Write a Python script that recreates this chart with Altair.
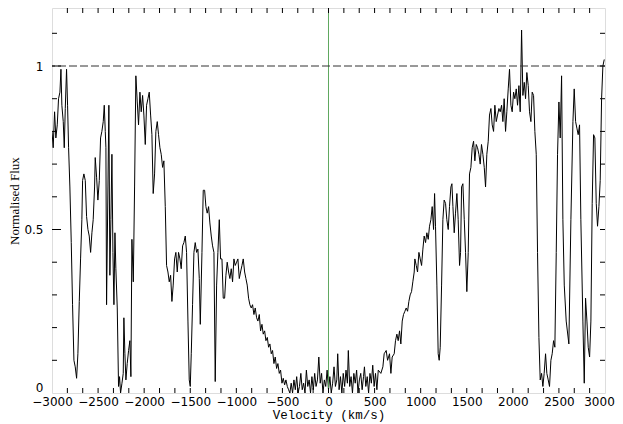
import altair as alt
import pandas as pd

# --- spectrum (velocity km/s, normalised flux) ---
vel_blue = [-3000, -2987, -2972, -2958, -2943, -2929, -2914, -2903, -2893, -2878, -2867, -2856, -2842,
            -2831, -2820, -2806, -2791, -2777, -2762, -2748, -2733, -2719, -2704, -2690, -2676, -2668,
            -2654, -2639, -2625, -2610, -2596, -2581, -2567, -2553, -2538, -2531, -2516, -2502, -2487,
            -2473, -2459, -2444, -2433, -2422, -2415, -2408, -2393, -2383, -2372, -2361, -2350, -2339,
            -2328, -2317, -2307, -2292, -2278, -2267, -2256, -2241, -2227, -2220, -2209, -2198, -2184,
            -2169, -2155, -2144, -2133, -2118, -2104, -2090, -2075, -2061, -2046, -2032, -2017, -2003,
            -1988, -1974, -1959, -1945, -1930, -1916, -1902, -1887, -1873, -1858, -1844, -1829, -1815,
            -1800, -1786, -1771, -1757, -1742, -1728, -1713, -1699, -1685, -1670, -1656, -1641, -1627,
            -1612, -1598, -1583, -1569, -1554, -1540, -1525, -1511, -1500, -1489, -1475, -1460, -1446,
            -1431, -1417, -1402, -1391, -1373, -1359, -1344, -1330, -1316, -1301, -1287, -1272, -1258,
            -1243, -1229, -1214, -1200, -1185, -1171, -1156, -1142, -1127, -1113, -1099, -1084, -1070,
            -1055, -1041, -1026, -1012, -997, -983, -968, -954, -939, -925, -910, -896, -882, -867,
            -853, -838, -824, -809, -795, -780, -766, -751, -737, -722, -708, -693, -679, -664, -650,
            -636, -621, -607, -592, -578, -563, -549, -534, -520, -505, -491, -476, -462, -447, -433,
            -419]
flux_blue = [0.80, 0.75, 0.86, 0.78, 0.82, 0.90, 0.92, 0.99, 0.88, 0.83, 0.75, 0.87, 0.99,
             0.88, 0.75, 0.63, 0.46, 0.27, 0.10, 0.08, 0.045, 0.12, 0.28, 0.41, 0.53, 0.65,
             0.67, 0.65, 0.54, 0.50, 0.48, 0.43, 0.49, 0.53, 0.63, 0.72, 0.66, 0.59, 0.65,
             0.78, 0.80, 0.83, 0.88, 0.80, 0.75, 0.27, 0.63, 0.88, 0.36, 0.53, 0.73, 0.43,
             0.27, 0.49, 0.38, 0.26, 0.02, 0.05, 0.00, 0.03, 0.06, 0.23, 0.12, 0.04, 0.09,
             0.13, 0.16, 0.05, 0.47, 0.34, 0.63, 0.97, 0.89, 0.82, 0.92, 0.86, 0.91, 0.85,
             0.76, 0.88, 0.90, 0.92, 0.85, 0.79, 0.61, 0.67, 0.80, 0.83, 0.79, 0.75, 0.73,
             0.69, 0.71, 0.57, 0.39, 0.37, 0.34, 0.36, 0.28, 0.33, 0.41, 0.43, 0.37, 0.43,
             0.41, 0.38, 0.45, 0.46, 0.48, 0.43, 0.22, 0.04, 0.02, 0.12, 0.27, 0.43, 0.46,
             0.43, 0.44, 0.35, 0.21, 0.43, 0.62, 0.62, 0.57, 0.55, 0.57, 0.52, 0.48, 0.45,
             0.43, 0.035, 0.33, 0.43, 0.53, 0.41, 0.41, 0.29, 0.29, 0.36, 0.40, 0.37, 0.35,
             0.38, 0.34, 0.41, 0.39, 0.40, 0.41, 0.35, 0.37, 0.39, 0.41, 0.37, 0.35, 0.33, 0.29,
             0.27, 0.26, 0.27, 0.24, 0.26, 0.23, 0.22, 0.24, 0.19, 0.21, 0.18, 0.19, 0.16, 0.17, 0.14,
             0.15, 0.12, 0.13, 0.09, 0.11, 0.075, 0.09, 0.06, 0.07, 0.03, 0.045, 0.025, 0.04, 0.02, 0.01,
             0.00]

vel_core = [-405, -390, -375, -360, -345, -330, -315, -300, -285, -270, -255, -240, -225, -210,
            -195, -180, -165, -150, -135, -120, -105, -90, -75, -60, -45, -30, -15, 0, 15, 30,
            45, 60, 75, 90, 100, 115, 130, 145, 160, 175, 190, 205, 215, 230, 245, 260, 275,
            290, 305, 320, 335, 350, 365, 380, 390, 405, 420, 435, 450, 465, 480, 495, 510,
            525, 540]
flux_core = [0.03, 0.00, 0.04, 0.01, 0.05, 0.00, 0.02, 0.06, 0.01, 0.03, 0.00, 0.07, 0.02, 0.04,
             0.00, 0.05, 0.01, 0.06, 0.02, 0.04, 0.11, 0.03, 0.06, 0.00, 0.04, 0.02, 0.07, 0.01,
             0.05, 0.00, 0.03, 0.08, 0.02, 0.04, 0.12, 0.01, 0.05, 0.00, 0.06, 0.02, 0.07, 0.03,
             0.13, 0.02, 0.05, 0.00, 0.06, 0.03, 0.07, 0.00, 0.04, 0.06, 0.01, 0.05, 0.08, 0.02,
             0.05, 0.00, 0.06, 0.03, 0.085, 0.02, 0.06, 0.01, 0.07]

vel_red = [568, 590, 604, 626, 641, 662, 677, 691, 713, 727, 742, 756, 771, 785, 800, 814, 829,
           843, 858, 872, 886, 901, 915, 930, 937, 952, 966, 981, 995, 1010, 1024, 1038, 1053,
           1067, 1082, 1096, 1111, 1125, 1140, 1151, 1161, 1176, 1190, 1201, 1212, 1227, 1241,
           1255, 1270, 1284, 1299, 1313, 1328, 1339, 1350, 1364, 1378, 1393, 1407, 1422, 1433,
           1444, 1458, 1473, 1487, 1501, 1516, 1530, 1545, 1559, 1574, 1588, 1603, 1617, 1632,
           1646, 1660, 1675, 1690, 1704, 1718, 1733, 1747, 1762, 1776, 1791, 1805, 1820, 1834,
           1849, 1863, 1878, 1892, 1906, 1921, 1935, 1950, 1964, 1979, 1993, 2008, 2022, 2037,
           2051, 2066, 2080, 2095, 2109, 2124, 2138, 2152, 2167, 2181, 2196, 2210, 2225, 2239,
           2254, 2268, 2283, 2297, 2312, 2326, 2340, 2355, 2369, 2384, 2398, 2413, 2427, 2442,
           2456, 2471, 2485, 2500, 2514, 2529, 2543, 2558, 2579, 2608, 2630, 2652, 2666, 2681,
           2695, 2709, 2724, 2738, 2760, 2775, 2789, 2804, 2818, 2833, 2847, 2861, 2876, 2890,
           2905, 2919, 2934, 2948, 2963, 2977, 2992]
flux_red = [0.06, 0.08, 0.12, 0.13, 0.10, 0.12, 0.06, 0.11, 0.12, 0.16, 0.18, 0.16, 0.19, 0.15,
            0.22, 0.24, 0.25, 0.26, 0.25, 0.28, 0.30, 0.31, 0.34, 0.37, 0.41, 0.39, 0.37, 0.43,
            0.41, 0.39, 0.44, 0.48, 0.46, 0.49, 0.47, 0.51, 0.53, 0.57, 0.50, 0.61, 0.51, 0.33,
            0.12, 0.10, 0.14, 0.33, 0.53, 0.59, 0.58, 0.53, 0.50, 0.57, 0.63, 0.64, 0.57, 0.49,
            0.55, 0.61, 0.53, 0.39, 0.43, 0.63, 0.64, 0.53, 0.43, 0.31, 0.43, 0.67, 0.69, 0.75,
            0.77, 0.71, 0.76, 0.75, 0.73, 0.70, 0.76, 0.73, 0.69, 0.63, 0.73, 0.77, 0.85, 0.87,
            0.82, 0.80, 0.88, 0.83, 0.85, 0.87, 0.86, 0.88, 0.83, 0.90, 0.80, 0.86, 0.93, 0.99,
            0.88, 0.86, 0.92, 0.90, 0.93, 0.88, 0.94, 0.86, 1.11, 0.91, 0.95, 0.90, 0.98, 0.94,
            0.86, 0.83, 0.92, 0.91, 0.80, 0.73, 0.43, 0.17, 0.04, 0.06, 0.02, 0.06, 0.12, 0.06,
            0.04, 0.02, 0.10, 0.12, 0.16, 0.14, 0.43, 0.73, 0.89, 0.78, 0.97, 0.53, 0.33, 0.22,
            0.15, 0.53, 0.83, 0.93, 0.83, 0.81, 0.79, 0.82, 0.53, 0.22, 0.03, 0.29, 0.22, 0.14,
            0.11, 0.22, 0.58, 0.79, 0.78, 0.58, 0.51, 0.57, 0.65, 0.90, 1.00, 1.02]

x_labels = [-3000, -2500, -2000, -1500, -1000, -500, 0, 500, 1000, 1500, 2000, 2500, 3000]
y_labels = [0, 0.5, 1]
x_minor = [-3000 + k * 500 / 3 for k in range(1, 36)]
y_minor = [round(0.1 * k, 1) for k in range(1, 12)]
y_major = [0.5, 1.0]
continuum = 1.0
rest_velocity = 0

W, H = 553, 385
YMAX = 1.1774
XT = "Velocity (km/s)"
YT = "Normalised Flux"

spec = pd.DataFrame({"v": vel_blue + vel_core + vel_red,
                     "f": flux_blue + flux_core + flux_red})

xs = alt.Scale(domain=[-3000, 3000], nice=False, zero=False)
ys = alt.Scale(domain=[0, YMAX], nice=False, zero=False)

xaxis = alt.Axis(values=x_labels, format="d", ticks=False, domain=False, grid=False,
                 labelPadding=3, labelFont="DejaVu Sans", labelFontSize=12,
                 labelOffset={"expr": "datum.value == 3000 ? -6 : 0"},
                 labelColor="black", titleFont="Liberation Mono", titleFontSize=12.5,
                 titleFontWeight="normal", titleColor="black", titleY=25,
                 titleBaseline="alphabetic", labelFlush=False, labelOverlap=False)
yaxis = alt.Axis(values=y_labels, format="~g", ticks=False, domain=False, grid=False,
                 labelPadding=9, labelFont="DejaVu Sans", labelFontSize=12,
                 labelOffset={"expr": "datum.value == 0 ? -6 : 0"},
                 labelColor="black", titleFont="Liberation Serif", titleFontSize=13,
                 titleFontWeight="normal", titleColor="black", titleX=-38,
                 titleBaseline="middle", labelFlush=False, labelOverlap=False)


def X(field):
    return alt.X(field, scale=xs, title=XT, axis=xaxis)


def Y(field):
    return alt.Y(field, scale=ys, title=YT, axis=yaxis)


line = alt.Chart(spec).mark_line(color="black", strokeWidth=1, clip=True).encode(
    x=X("v:Q"), y=Y("f:Q"), order="v:Q")

dash = alt.Chart(pd.DataFrame({"f": [continuum]})).mark_rule(
    color="#333333", strokeWidth=1, strokeDash=[8, 3]).encode(y=Y("f:Q"))

green = alt.Chart(pd.DataFrame({"v": [rest_velocity]})).mark_rule(
    color="#4f9f4f", strokeWidth=1, opacity=0.9).encode(x=X("v:Q"))

xt = pd.DataFrame({"v": x_minor})
xt_bottom = alt.Chart(xt).mark_rule(color="black", strokeWidth=1).encode(
    x=X("v:Q"), y=alt.value(H), y2=alt.value(H - 5))
xt_top = alt.Chart(xt).mark_rule(color="black", strokeWidth=1).encode(
    x=X("v:Q"), y=alt.value(0), y2=alt.value(5))

yt_left_minor = alt.Chart(pd.DataFrame({"f": [v for v in y_minor if v not in y_major]})).mark_rule(
    color="black", strokeWidth=1).encode(y=Y("f:Q"), x=alt.value(0), x2=alt.value(5))
yt_left_major = alt.Chart(pd.DataFrame({"f": y_major})).mark_rule(
    color="black", strokeWidth=1).encode(y=Y("f:Q"), x=alt.value(0), x2=alt.value(9))
yt_right = alt.Chart(pd.DataFrame({"f": y_minor})).mark_rule(
    color="black", strokeWidth=1).encode(y=Y("f:Q"), x=alt.value(W), x2=alt.value(W - 5))

chart = alt.layer(
    line, green, dash, xt_bottom, xt_top, yt_left_minor, yt_left_major, yt_right
).properties(
    width=W, height=H,
    autosize=alt.AutoSizeParams(type="none"),
    padding={"left": 44, "top": 0, "right": 10, "bottom": 40},
).configure_view(stroke="black", strokeWidth=1).configure(background="white")

chart.save("out.html", embed_options={"renderer": "svg", "actions": False})
